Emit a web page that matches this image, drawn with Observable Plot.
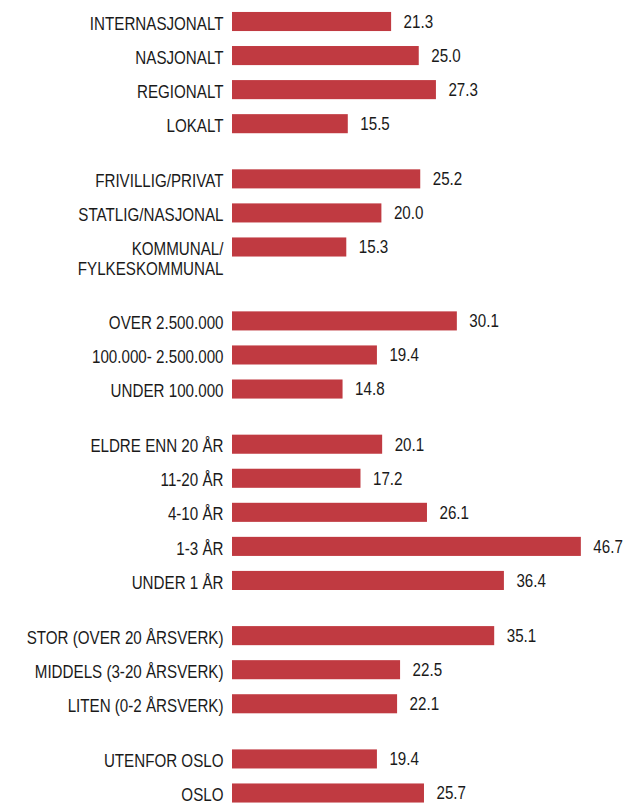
<!DOCTYPE html>
<html>
<head>
<meta charset="utf-8">
<script src="https://cdn.jsdelivr.net/npm/d3@7"></script>
<script src="https://cdn.jsdelivr.net/npm/@observablehq/plot@0.6"></script>
<style>
  html, body { margin: 0; padding: 0; background: #fff; }
  #chart svg { display: block; }
</style>
</head>
<body>
<div id="chart"></div>
<script>
// Groups of categories (top to bottom) and their values
const groupLabels = [
  ["INTERNASJONALT", "NASJONALT", "REGIONALT", "LOKALT"],
  ["FRIVILLIG/PRIVAT", "STATLIG/NASJONAL", "KOMMUNAL/\nFYLKESKOMMUNAL"],
  ["OVER 2.500.000", "100.000- 2.500.000", "UNDER 100.000"],
  ["ELDRE ENN 20 ÅR", "11-20 ÅR", "4-10 ÅR", "1-3 ÅR", "UNDER 1 ÅR"],
  ["STOR (OVER 20 ÅRSVERK)", "MIDDELS (3-20 ÅRSVERK)", "LITEN (0-2 ÅRSVERK)"],
  ["UTENFOR OSLO", "OSLO"]
];
const groupValues = [
  [21.3, 25.0, 27.3, 15.5],
  [25.2, 20.0, 15.3],
  [30.1, 19.4, 14.8],
  [20.1, 17.2, 26.1, 46.7, 36.4],
  [35.1, 22.5, 22.1],
  [19.4, 25.7]
];

// Build rows: slot index advances 1 per bar, plus a gap between groups
const GROUP_GAP = 0.62;
const rows = [];
let pos = 0;
groupLabels.forEach((labels, g) => {
  if (g > 0) pos += 1 + GROUP_GAP;
  labels.forEach((label, i) => {
    if (i > 0) pos += 1;
    rows.push({label, value: groupValues[g][i], pos});
  });
  // a two-line label takes extra room after its group
  if (labels.some(l => l.includes("\n"))) pos += 0.55;
});
const maxPos = pos;
const HALF = 0.28;

const font = "'Liberation Sans', Arial, sans-serif";

const chart = Plot.plot({
  width: 626,
  height: 805,
  marginTop: 0,
  marginBottom: 0,
  marginLeft: 0,
  marginRight: 0,
  x: {domain: [0, 50], range: [232, 605.5], axis: null},
  y: {domain: [0, maxPos], range: [21.5, 793], axis: null},
  style: {fontFamily: font, background: "#fff"},
  marks: [
    Plot.rectX(rows, {
      x1: 0, x2: "value",
      y1: d => d.pos - HALF, y2: d => d.pos + HALF,
      fill: "#c03a41"
    }),
    Plot.text(rows, {
      x: 0, y: "pos", text: "label",
      textAnchor: "end", lineAnchor: "top", dx: -9, dy: -6.8,
      lineHeight: 1.1,
      fontSize: 18.5, fill: "#1a1a1a"
    }),
    Plot.text(rows, {
      x: "value", y: "pos", text: d => d.value.toFixed(1),
      textAnchor: "start", dx: 12,
      fontSize: 18.5, fill: "#1a1a1a"
    })
  ]
});
// Narrow the type horizontally (the reference uses a condensed face)
chart.querySelectorAll("text").forEach(t => {
  const tr = t.getAttribute("transform") || "";
  t.setAttribute("transform", (tr + " scale(0.82,1)").trim());
});
document.getElementById("chart").appendChild(chart);
</script>
</body>
</html>
